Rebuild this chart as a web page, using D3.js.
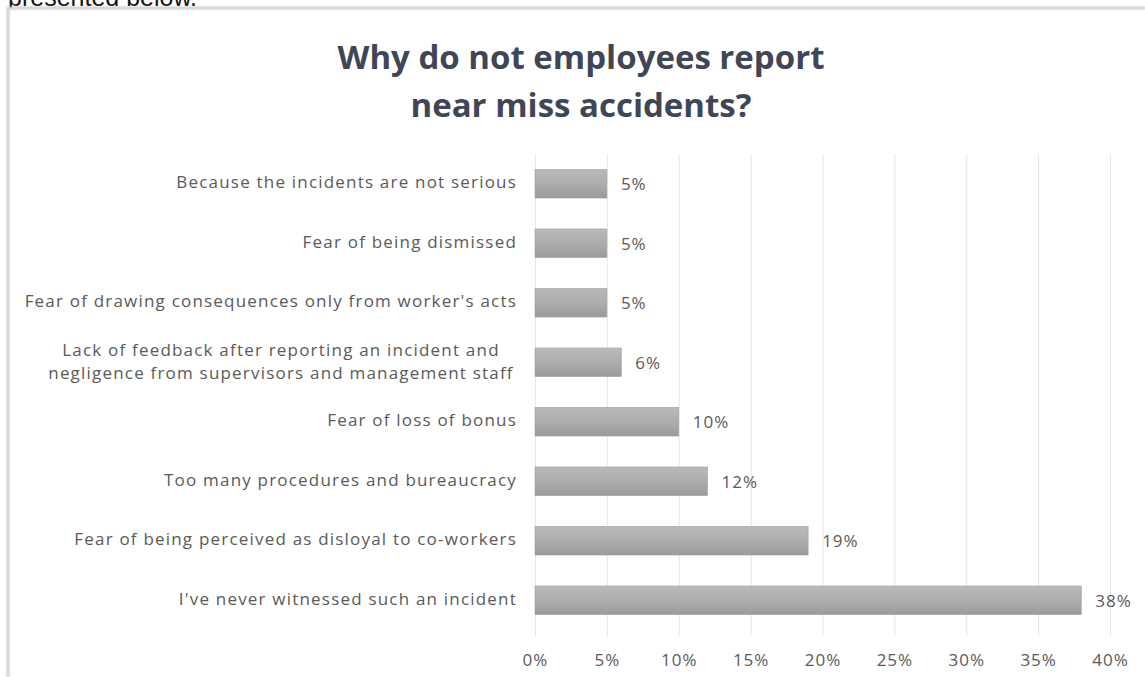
<!DOCTYPE html>
<html>
<head>
<meta charset="utf-8">
<script src="https://cdn.jsdelivr.net/npm/d3@7/dist/d3.min.js"></script>
<style>
  html, body { margin: 0; padding: 0; background: #ffffff; }
  svg { display: block; }
</style>
</head>
<body>
<script>
// Survey answers, listed top to bottom as shown in the chart
const categories = [
  "Because the incidents are not serious",
  "Fear of being dismissed",
  "Fear of drawing consequences only from worker's acts",
  "Lack of feedback after reporting an incident and negligence from supervisors and management staff",
  "Fear of loss of bonus",
  "Too many procedures and bureaucracy",
  "Fear of being perceived as disloyal to co-workers",
  "I've never witnessed such an incident"
];
// Share of respondents per answer (%)
const shares = [5, 5, 5, 6, 10, 12, 19, 38];
// Label lines for answers that wrap onto two lines
const wrappedLabels = {
  "Lack of feedback after reporting an incident and negligence from supervisors and management staff":
    ["Lack of feedback after reporting an incident and", "negligence from supervisors and management staff"]
};
// Horizontal axis ticks (%)
const tickValues = [0, 5, 10, 15, 20, 25, 30, 35, 40];
const titleLines = ["Why do not employees report", "near miss accidents?"];

const W = 1145, H = 677;
const plot = { left: 535, right: 1110, top: 154, bottom: 630 };
const labelFont = "'Open Sans', Lato, sans-serif";
const textGrey = "#5a5a5a";
const labelSize = 17, labelSpacing = 1.2;

const svg = d3.select("body").append("svg")
  .attr("width", W).attr("height", H);

const defs = svg.append("defs");
const grad = defs.append("linearGradient")
  .attr("id", "barFill").attr("x1", 0).attr("y1", 0).attr("x2", 0).attr("y2", 1);
grad.append("stop").attr("offset", "0%").attr("stop-color", "#bababa");
grad.append("stop").attr("offset", "55%").attr("stop-color", "#ababab");
grad.append("stop").attr("offset", "100%").attr("stop-color", "#9a9a9a");

const shadow = defs.append("filter").attr("id", "soft")
  .attr("x", "-5%").attr("y", "-50%").attr("width", "110%").attr("height", "200%");
shadow.append("feGaussianBlur").attr("stdDeviation", 1.2);

// Tail of the sentence above the chart frame
svg.append("text")
  .attr("x", 8).attr("y", 6)
  .attr("font-family", "'Liberation Sans', Arial, sans-serif")
  .attr("font-size", 25)
  .attr("fill", "#111")
  .text("presented below.");

// Chart frame
svg.append("rect")
  .attr("x", 8).attr("y", 8).attr("width", W).attr("height", H)
  .attr("fill", "#ffffff");
svg.append("path")
  .attr("d", `M8,${H} L8,8 L${W},8`)
  .attr("fill", "none").attr("stroke", "#c8c8c8").attr("stroke-width", 2.5)
  .attr("filter", "url(#soft)");
svg.append("path")
  .attr("d", `M8,${H} L8,8 L${W},8`)
  .attr("fill", "none").attr("stroke", "#d6d6d6").attr("stroke-width", 1);

// Title
svg.append("text")
  .attr("text-anchor", "middle")
  .attr("font-family", labelFont)
  .attr("font-weight", 700)
  .attr("font-size", 33)
  .attr("fill", "#3f4756")
  .selectAll("tspan")
  .data(titleLines)
  .join("tspan")
  .attr("x", 581)
  .attr("y", (d, i) => 69 + i * 48)
  .text(d => d);

// Scales
const x = d3.scaleLinear().domain([0, 40]).range([plot.left, plot.right]);
const y = d3.scaleBand().domain(categories)
  .range([plot.top, plot.bottom])
  .paddingInner(0.52).paddingOuter(0.26);

// Vertical gridlines and percentage tick labels
const axis = d3.axisBottom(x)
  .tickValues(tickValues)
  .tickFormat(d => d + "%")
  .tickSize(-(plot.bottom + 6 - plot.top))
  .tickPadding(0);

const gAxis = svg.append("g")
  .attr("transform", `translate(0,${plot.bottom + 6})`)
  .call(axis);
gAxis.select(".domain").remove();
gAxis.selectAll(".tick line").attr("stroke", "#e6e6e6").attr("stroke-width", 1);
gAxis.selectAll(".tick text")
  .attr("y", 30).attr("dy", 0)
  .attr("font-family", labelFont)
  .attr("font-size", labelSize)
  .attr("letter-spacing", 1)
  .attr("fill", textGrey);

// Bars
const data = categories.map((c, i) => ({ cat: c, v: shares[i] }));

svg.append("g").selectAll("rect")
  .data(data)
  .join("rect")
  .attr("x", x(0))
  .attr("y", d => y(d.cat))
  .attr("width", d => x(d.v) - x(0))
  .attr("height", y.bandwidth())
  .attr("fill", "url(#barFill)")
  .attr("stroke", "#9e9e9e")
  .attr("stroke-width", 0.6);

// Value labels
svg.append("g").selectAll("text")
  .data(data)
  .join("text")
  .attr("x", d => x(d.v) + 14)
  .attr("y", d => y(d.cat) + y.bandwidth() / 2 + 2)
  .attr("dominant-baseline", "middle")
  .attr("font-family", labelFont)
  .attr("font-size", labelSize)
  .attr("letter-spacing", 1)
  .attr("fill", textGrey)
  .text(d => d.v + "%");

// Category labels
const catG = svg.append("g");
data.forEach(d => {
  const cy = y(d.cat) + y.bandwidth() / 2;
  const lines = wrappedLabels[d.cat];
  if (lines) {
    const t = catG.append("text")
      .attr("font-family", labelFont)
      .attr("font-size", labelSize)
      .attr("letter-spacing", labelSpacing)
      .attr("fill", textGrey)
      .attr("text-anchor", "middle")
      .attr("dominant-baseline", "middle");
    lines.forEach((ln, i) => {
      t.append("tspan")
        .attr("x", 281)
        .attr("y", cy - 11 + i * 23)
        .text(ln);
    });
  } else {
    catG.append("text")
      .attr("x", 517)
      .attr("y", cy)
      .attr("text-anchor", "end")
      .attr("dominant-baseline", "middle")
      .attr("font-family", labelFont)
      .attr("font-size", labelSize)
      .attr("letter-spacing", labelSpacing)
      .attr("fill", textGrey)
      .text(d.cat);
  }
});
</script>
</body>
</html>
